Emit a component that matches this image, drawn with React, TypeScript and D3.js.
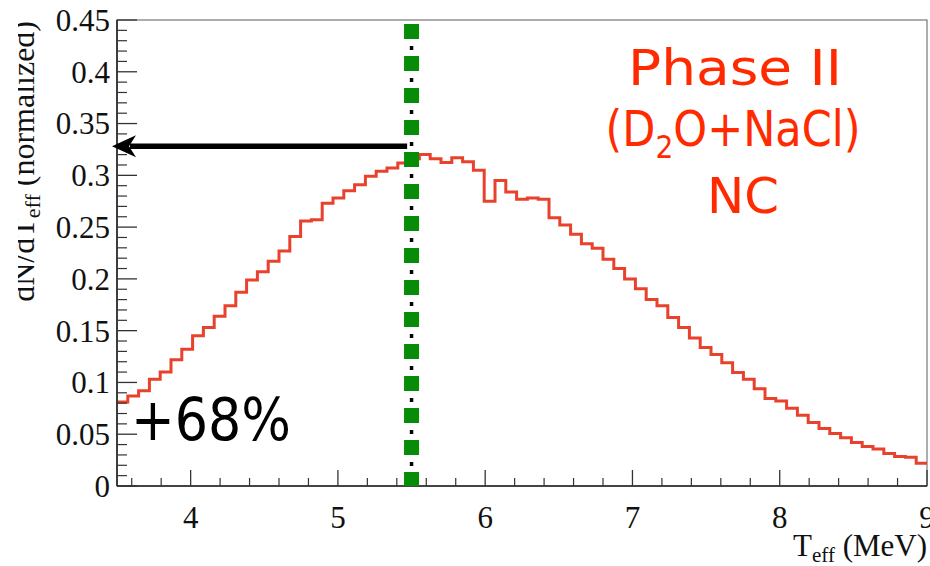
import React from "react";
import * as d3 from "d3";

// Normalised NC spectrum, Phase II (D2O+NaCl): one value per bin from 3.5 to 9 MeV
const binCount = 75;
const tMin = 3.5;
const tMax = 9;
const spectrum = [
  0.081, 0.087, 0.092, 0.103, 0.11, 0.122, 0.132, 0.145, 0.153, 0.164,
  0.174, 0.187, 0.199, 0.207, 0.217, 0.227, 0.241, 0.256, 0.257, 0.273,
  0.278, 0.285, 0.291, 0.299, 0.304, 0.307, 0.312, 0.316, 0.32, 0.316,
  0.3125, 0.317, 0.313, 0.305, 0.275, 0.295, 0.284, 0.277, 0.278, 0.277,
  0.259, 0.252, 0.243, 0.234, 0.2295, 0.219, 0.21, 0.2, 0.1905, 0.18,
  0.174, 0.1626, 0.153, 0.143, 0.1337, 0.127, 0.119, 0.1096, 0.103, 0.094,
  0.0845, 0.082, 0.075, 0.0684, 0.0614, 0.0556, 0.0508, 0.0465, 0.042, 0.0382,
  0.0357, 0.0315, 0.0286, 0.0277, 0.0219,
];

const xTicks = [4, 5, 6, 7, 8, 9];
const yTicks = [0, 0.05, 0.1, 0.15, 0.2, 0.25, 0.3, 0.35, 0.4, 0.45];
const yTickLabels = ["0", "0.05", "0.1", "0.15", "0.2", "0.25", "0.3", "0.35", "0.4", "0.45"];

const thresholdT = 5.5;
const arrowLevel = 0.328;
const arrowStartT = 5.47;
const gainLabel = "+68%";
const phaseLines = ["Phase II", "(D", "NC"];

const W = 930;
const H = 566;
const left = 117;
const right = 927;
const top = 20;
const bottom = 486;

const serif = "'Liberation Serif', 'Times New Roman', serif";
const hand = "'DejaVu Sans', 'Noto Sans', sans-serif";
const red = "#ff2a00";
const histRed = "#e8412c";
const green = "#078c07";

export default function App() {
  const x = d3.scaleLinear().domain([tMin, tMax]).range([left, right]);
  const y = d3.scaleLinear().domain([0, 0.45]).range([bottom, top]);

  const binW = (tMax - tMin) / binCount;
  const edges = d3.range(binCount + 1).map((i) => tMin + i * binW);

  // step outline, ROOT style: horizontal across each bin, vertical between bins
  const pts: [number, number][] = [];
  spectrum.forEach((v, i) => {
    pts.push([edges[i], v]);
    pts.push([edges[i + 1], v]);
  });
  const stepPath = d3
    .line<[number, number]>()
    .x((d) => x(d[0]))
    .y((d) => y(d[1]))(pts);

  const xMinor = d3.range(36, 91, 2).map((v) => v / 10).filter((v) => !xTicks.includes(v));
  const yMinor = d3.range(0, 46).map((v) => v / 100).filter((v) => Math.round(v * 100) % 5 !== 0);

  const ay = y(arrowLevel);
  const tipX = x(tMin) - 5;
  const gx = x(thresholdT);

  return (
    <svg
      width={W}
      height={H}
      style={{ position: "absolute", left: 0, top: 0, background: "#fff" }}
    >
      <defs>
        <clipPath id="ytitle-clip">
          <rect x={18} y={0} width={100} height={H} />
        </clipPath>
      </defs>

      {/* frame */}
      <rect x={left} y={top} width={right - left} height={bottom - top} fill="none" stroke="#777" strokeWidth={1.2} />

      {/* histogram */}
      <path d={stepPath ?? ""} fill="none" stroke={histRed} strokeWidth={3} strokeLinejoin="miter" />

      {/* axes */}
      <line x1={left} x2={left} y1={top} y2={bottom} stroke="#222" strokeWidth={1.6} />
      <line x1={left} x2={right} y1={bottom} y2={bottom} stroke="#222" strokeWidth={1.6} />

      {yTicks.map((t, i) => (
        <g key={"y" + t}>
          <line x1={left} x2={left + 20} y1={y(t)} y2={y(t)} stroke="#333" strokeWidth={1.3} />
          <text
            x={left - 7}
            y={y(t)}
            dy="0.35em"
            textAnchor="end"
            fontFamily={serif}
            fontSize={31}
            fill="#111"
          >
            {yTickLabels[i]}
          </text>
        </g>
      ))}
      {yMinor.map((t) => (
        <line key={"ym" + t} x1={left} x2={left + 10} y1={y(t)} y2={y(t)} stroke="#333" strokeWidth={1.2} />
      ))}

      {xTicks.map((t) => (
        <g key={"x" + t}>
          <line x1={x(t)} x2={x(t)} y1={bottom} y2={bottom - 16} stroke="#333" strokeWidth={1.3} />
          <text x={x(t)} y={528} textAnchor="middle" fontFamily={serif} fontSize={31} fill="#111">
            {t}
          </text>
        </g>
      ))}
      {xMinor.map((t) => (
        <line key={"xm" + t} x1={x(t)} x2={x(t)} y1={bottom} y2={bottom - 8} stroke="#333" strokeWidth={1.2} />
      ))}

      {/* axis titles */}
      <text x={right} y={556} textAnchor="end" fontFamily={serif} fontSize={31} fill="#111">
        T<tspan fontSize={21} dy={6}>eff</tspan>
        <tspan dy={-6}> (MeV)</tspan>
      </text>
      <g clipPath="url(#ytitle-clip)">
        <text
          transform="translate(34,21) rotate(-90)"
          textAnchor="end"
          fontFamily={serif}
          fontSize={32}
          fill="#111"
        >
          dN/dT<tspan fontSize={22} dy={6}>eff</tspan>
          <tspan dy={-6}> (normalized)</tspan>
        </text>
      </g>

      {/* threshold line: black dots under green dashes */}
      <line x1={gx} x2={gx} y1={top + 4} y2={bottom} stroke="#000" strokeWidth={3.5} strokeDasharray="4 12" strokeDashoffset={-22} />
      <line x1={gx} x2={gx} y1={top + 4} y2={bottom} stroke={green} strokeWidth={15} strokeDasharray="15 17" />

      {/* arrow from the threshold to the y axis */}
      <line x1={x(arrowStartT)} x2={tipX + 18} y1={ay} y2={ay} stroke="#000" strokeWidth={5.5} />
      <path
        d={`M${tipX},${ay} L${tipX + 24},${ay - 11} L${tipX + 17},${ay} L${tipX + 24},${ay + 11} Z`}
        fill="#000"
      />

      {/* annotations */}
      <text x={131} y={440} fontFamily={hand} fontSize={58} fill="#000" textLength={160} lengthAdjust="spacingAndGlyphs">
        {gainLabel}
      </text>
      <text x={735} y={85} textAnchor="middle" fontFamily={hand} fontSize={49} fill={red} textLength={214} lengthAdjust="spacingAndGlyphs">
        {phaseLines[0]}
      </text>
      <text x={733} y={146} textAnchor="middle" fontFamily={hand} fontSize={49} fill={red} textLength={255} lengthAdjust="spacingAndGlyphs">
        ({"D"}
        <tspan fontSize={32} dy={12}>2</tspan>
        <tspan dy={-12}>O+NaCl)</tspan>
      </text>
      <text x={743} y={213} textAnchor="middle" fontFamily={hand} fontSize={49} fill={red} textLength={72} lengthAdjust="spacingAndGlyphs">
        {phaseLines[2]}
      </text>
    </svg>
  );
}
